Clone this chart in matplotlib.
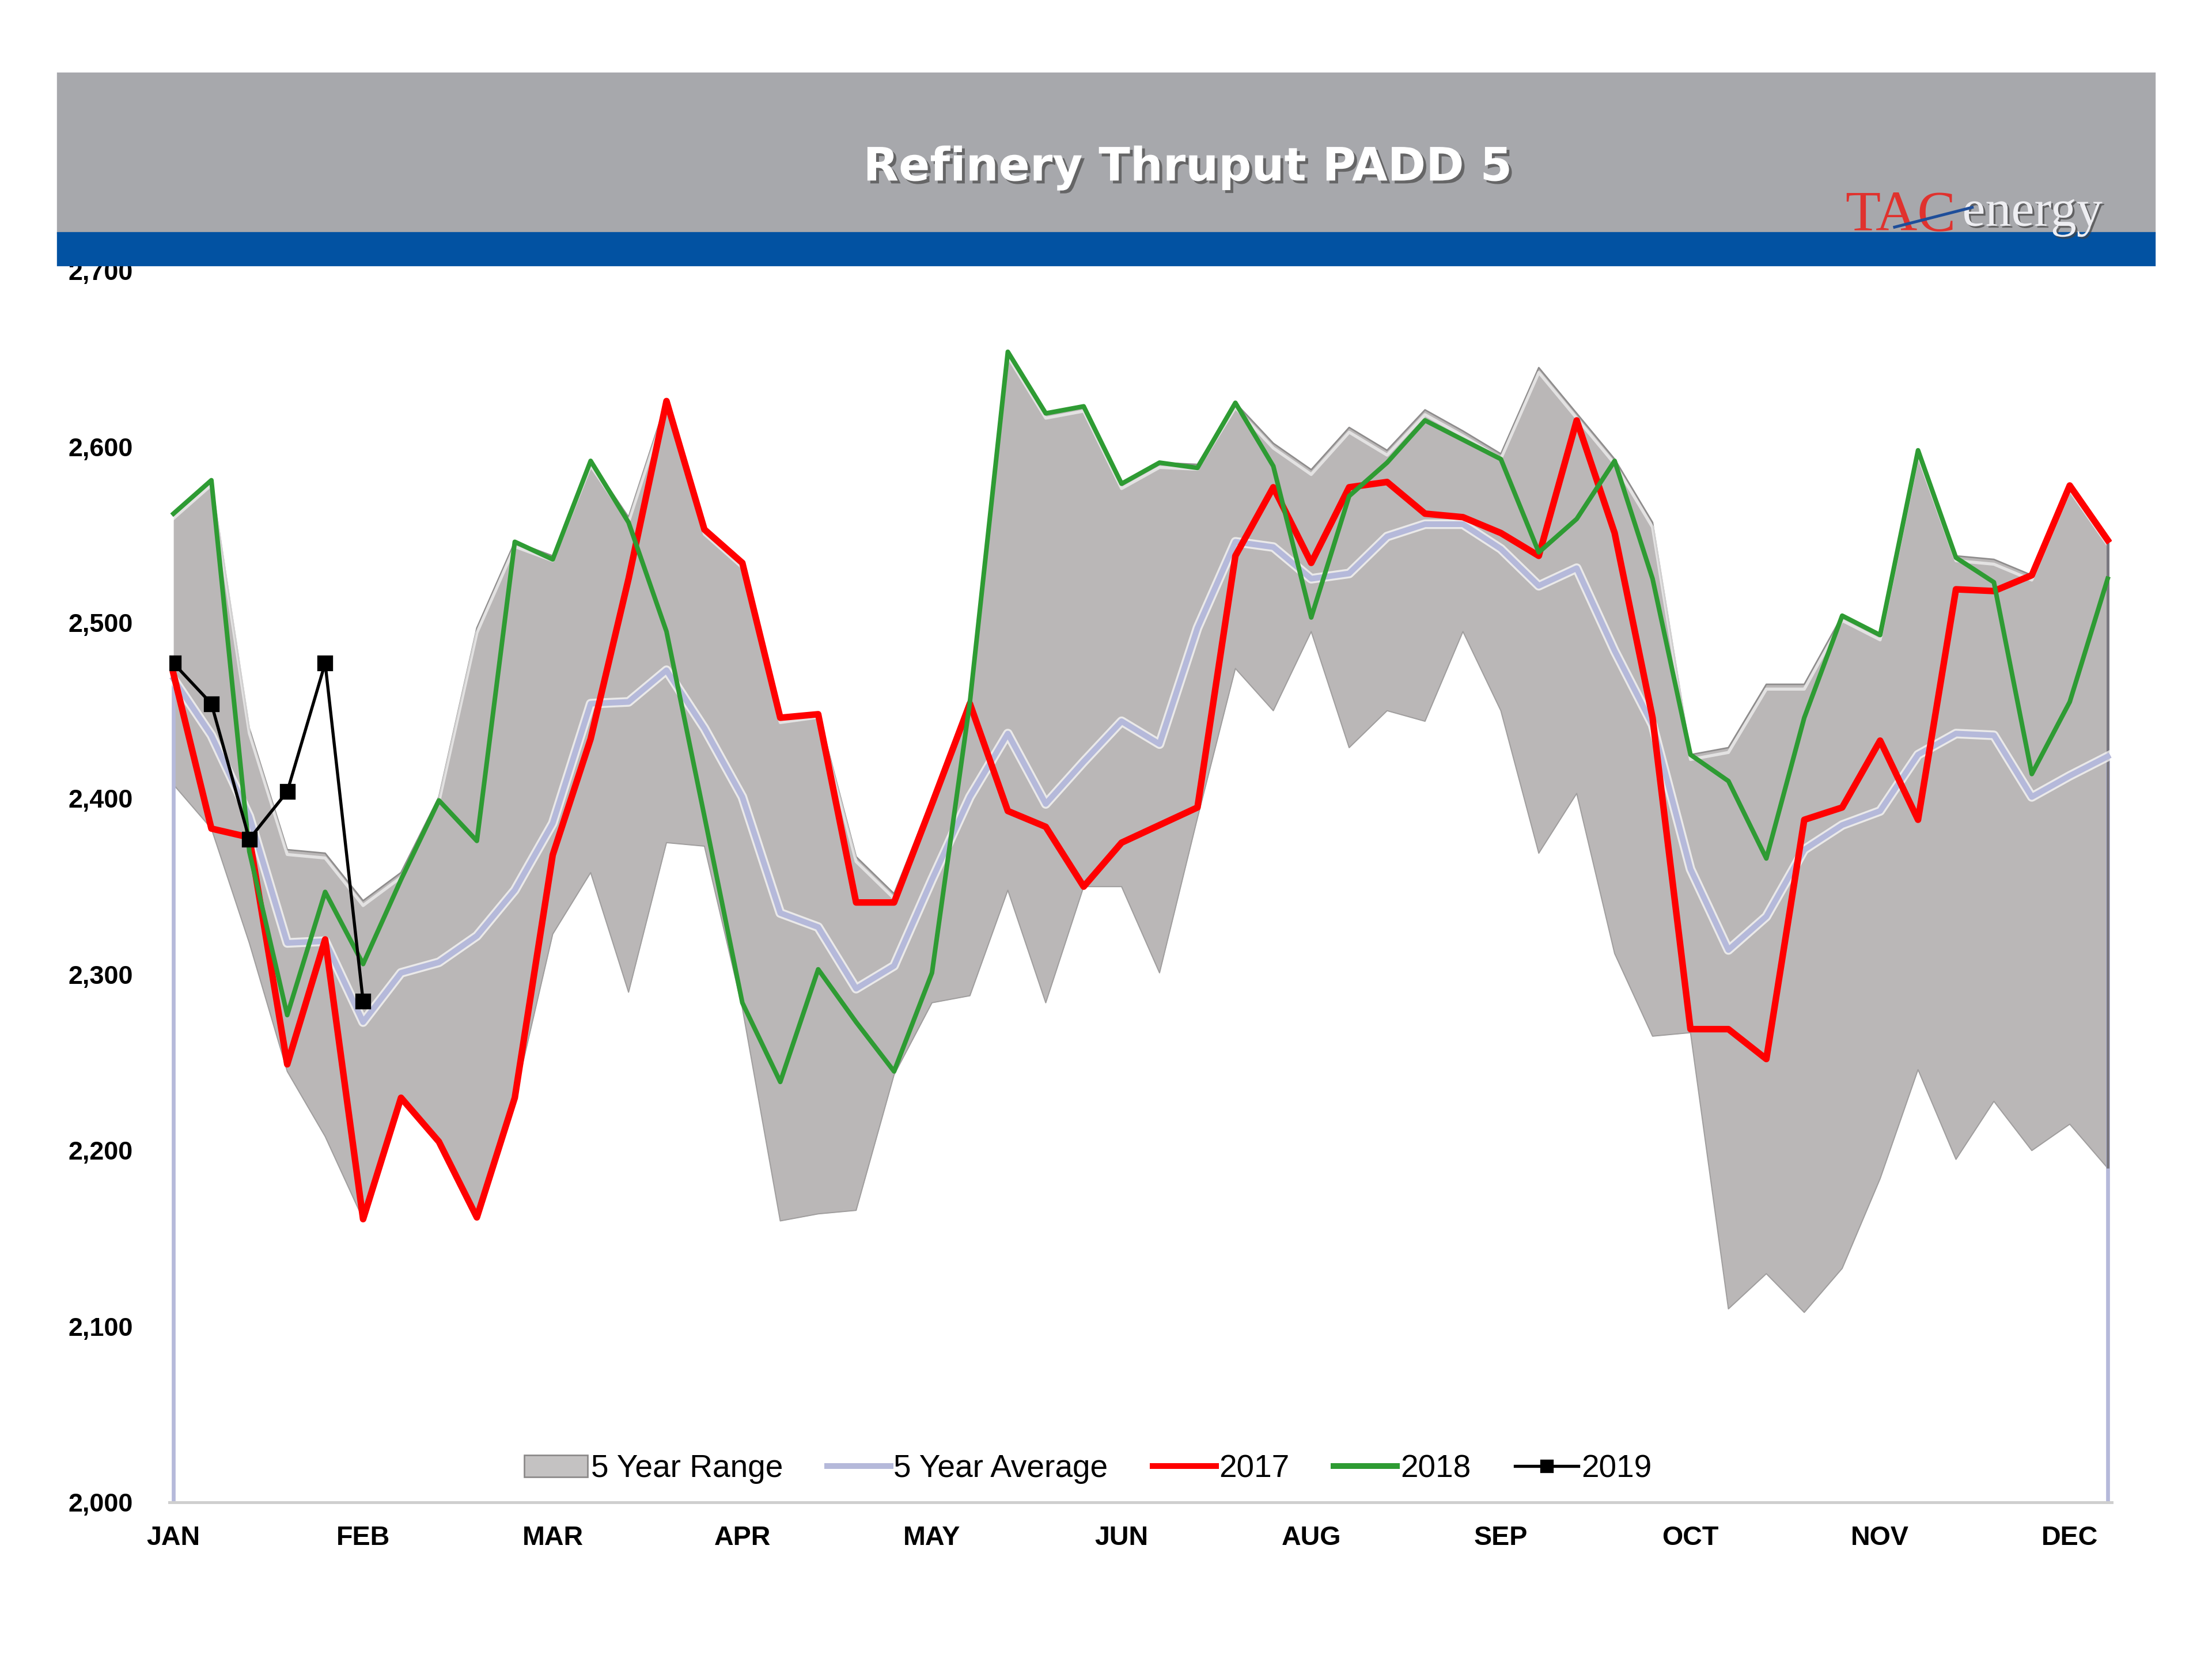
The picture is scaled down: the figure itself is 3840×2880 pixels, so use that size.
import matplotlib
matplotlib.use("Agg")
import matplotlib.pyplot as plt
import matplotlib.patheffects as pe
import matplotlib.transforms as mtransforms
from matplotlib.patches import Rectangle, Patch
from matplotlib.lines import Line2D
import numpy as np

# weekly data, 52 weeks
weeks = np.arange(52)
month_labels = ["JAN", "FEB", "MAR", "APR", "MAY", "JUN", "AUG", "SEP", "OCT", "NOV", "DEC"]
month_ticks = [0, 5, 10, 15, 20, 25, 30, 35, 40, 45, 50]

range_upper = [2562, 2581, 2440, 2371, 2369, 2342, 2358, 2401, 2497, 2546,
               2538, 2592, 2560, 2626, 2553, 2534, 2446, 2449, 2367, 2346,
               2400, 2458, 2654, 2619, 2623, 2579, 2591, 2590, 2625, 2602,
               2587, 2611, 2598, 2621, 2609, 2596, 2645, 2619, 2593, 2557,
               2425, 2429, 2465, 2465, 2504, 2493, 2598, 2538, 2536, 2527,
               2578, 2547]
range_lower = [2408, 2383, 2318, 2245, 2208, 2161, 2230, 2205, 2162, 2230,
               2323, 2358, 2290, 2375, 2373, 2281, 2160, 2164, 2166, 2243,
               2284, 2288, 2348, 2284, 2350, 2350, 2301, 2389, 2474, 2450,
               2495, 2429, 2450, 2444, 2495, 2450, 2369, 2403, 2312, 2265,
               2267, 2110, 2130, 2108, 2133, 2184, 2246, 2195, 2228, 2200,
               2215, 2190]
avg_5yr = [2468, 2436, 2390, 2318, 2319, 2273, 2301, 2307, 2322, 2348,
           2386, 2454, 2455, 2473, 2440, 2401, 2335, 2327, 2292, 2305,
           2354, 2401, 2437, 2397, 2421, 2444, 2431, 2497, 2546, 2543,
           2525, 2528, 2549, 2556, 2556, 2542, 2521, 2531, 2484, 2442,
           2360, 2314, 2333, 2371, 2385, 2393, 2425, 2437, 2436, 2401,
           2413, 2424]
y2017 = [2471, 2383, 2378, 2249, 2320, 2161, 2230, 2205, 2162, 2230,
         2368, 2434, 2525, 2626, 2553, 2534, 2446, 2448, 2341, 2341,
         2397, 2454, 2393, 2384, 2350, 2375, 2385, 2395, 2538, 2577,
         2534, 2577, 2580, 2562, 2560, 2551, 2538, 2615, 2551, 2446,
         2269, 2269, 2252, 2388, 2395, 2433, 2388, 2519, 2518, 2527,
         2578, 2547]
y2018 = [2562, 2581, 2370, 2277, 2347, 2306, 2354, 2399, 2376, 2546,
         2536, 2592, 2557, 2495, 2390, 2284, 2239, 2303, 2273, 2245,
         2301, 2455, 2654, 2619, 2623, 2579, 2591, 2588, 2625, 2589,
         2503, 2572, 2591, 2615, 2604, 2593, 2540, 2559, 2592, 2525,
         2425, 2410, 2366, 2446, 2504, 2493, 2598, 2537, 2523, 2414,
         2455, 2525]
y2019 = [2477, 2454, 2377, 2404, 2477, 2285]

W, H = 1568.0, 1176.0
fig = plt.figure(figsize=(16, 12), dpi=240)

# header bands
fig.patches.append(Rectangle((41 / W, 1 - 165 / H), (1527 - 41) / W, (165 - 52) / H,
                             transform=fig.transFigure, color="#A7A8AC", zorder=5))
fig.patches.append(Rectangle((41 / W, 1 - 188 / H), (1527 - 41) / W, (188 - 165) / H,
                             transform=fig.transFigure, color="#0252A2", zorder=5))
fig.text(842 / W, 1 - 119 / H, "Refinery Thruput PADD 5", ha="center", va="center",
         fontsize=24, fontweight="bold", color="white", zorder=6,
         path_effects=[pe.withSimplePatchShadow(offset=(1.5, -1.5), shadow_rgbFace="#555555", alpha=0.8)])
fig.text(1308 / W, 1 - 163 / H, "TAC", ha="left", va="baseline", fontsize=30,
         family="Liberation Serif", color="#E0322E", zorder=6)
fig.text(1391 / W, 1 - 160 / H, "energy", ha="left", va="baseline", fontsize=27,
         family="Liberation Serif", color="#EEEEF2", zorder=6,
         path_effects=[pe.withSimplePatchShadow(offset=(1, -1), shadow_rgbFace="#444444", alpha=0.7)])
fig.lines.append(Line2D([1343 / W, 1398 / W], [1 - 161 / H, 1 - 147 / H],
                        transform=fig.transFigure, color="#1E4E9A", lw=1.5, zorder=7))

ax = fig.add_axes([120 / W, 1 - 1065 / H, (1497 - 120) / W, (1065 - 192) / H])

# 5 year range
ax.fill_between(weeks, range_lower, range_upper, color="#BAB7B7", lw=0, zorder=1)
ax.plot(weeks, range_upper, color="#8E8C8C", lw=0.8, zorder=1.2)
ax.plot(weeks, range_lower, color="#A09E9E", lw=0.6, zorder=1.2)
hl = mtransforms.offset_copy(ax.transData, fig=fig, x=0, y=-2.5, units="points")
ax.plot(weeks, range_upper, color="white", lw=1.6, alpha=0.6, transform=hl, zorder=1.3)

# edge verticals
ax.vlines([weeks[0], weeks[-1]], 2000, [avg_5yr[0], avg_5yr[-1]], color="#B5B9DA", lw=2, zorder=1.5)
ax.vlines(weeks[-1], range_lower[-1], range_upper[-1], color="#7A7880", lw=1.5, zorder=1.6)

ax.plot(weeks, avg_5yr, color="#B5B9DA", lw=3, zorder=2,
        path_effects=[pe.Stroke(linewidth=5, foreground="white", alpha=0.7), pe.Normal()])
ax.plot(weeks, y2017, color="#FF0000", lw=3.4, zorder=3)
ax.plot(weeks, y2018, color="#2E9B33", lw=2.4, zorder=4)
ax.plot(weeks[:len(y2019)], y2019, color="black", lw=1.6, marker="s", ms=7, zorder=5)

ax.set_xlim(-0.11, 51.11)
ax.set_ylim(2000, 2700)
ax.set_yticks(range(2000, 2701, 100))
ax.set_yticklabels([f"{v:,}" for v in range(2000, 2701, 100)])
ax.set_xticks(month_ticks)
ax.set_xticklabels(month_labels)
ax.tick_params(length=0)
ax.tick_params(axis="y", pad=19)
ax.tick_params(axis="x", pad=12)
for lab in ax.get_yticklabels():
    lab.set_fontfamily("Liberation Sans")
    lab.set_fontweight("bold")
    lab.set_fontsize(13.5)
for lab in ax.get_xticklabels():
    lab.set_fontfamily("Liberation Sans")
    lab.set_fontweight("bold")
    lab.set_fontsize(14)
for s in ["top", "right", "left"]:
    ax.spines[s].set_visible(False)
ax.spines["bottom"].set_color("#CFCFCF")
ax.spines["bottom"].set_linewidth(1.5)

handles = [Patch(facecolor="#C4C2C2", edgecolor="#8A8888", lw=0.8),
           Line2D([], [], color="#B5B9DA", lw=3),
           Line2D([], [], color="#FF0000", lw=3),
           Line2D([], [], color="#2E9B33", lw=3),
           Line2D([], [], color="black", lw=1.6, marker="s", ms=6)]
ax.legend(handles, ["5 Year Range", "5 Year Average", "2017", "2018", "2019"],
          loc="center", bbox_to_anchor=(0.473, 0.027), ncol=5, frameon=False,
          prop={"family": "Liberation Sans", "size": 16.5}, handlelength=2.0,
          handletextpad=0.1, columnspacing=1.4)

fig.savefig("out.png", dpi=240)
